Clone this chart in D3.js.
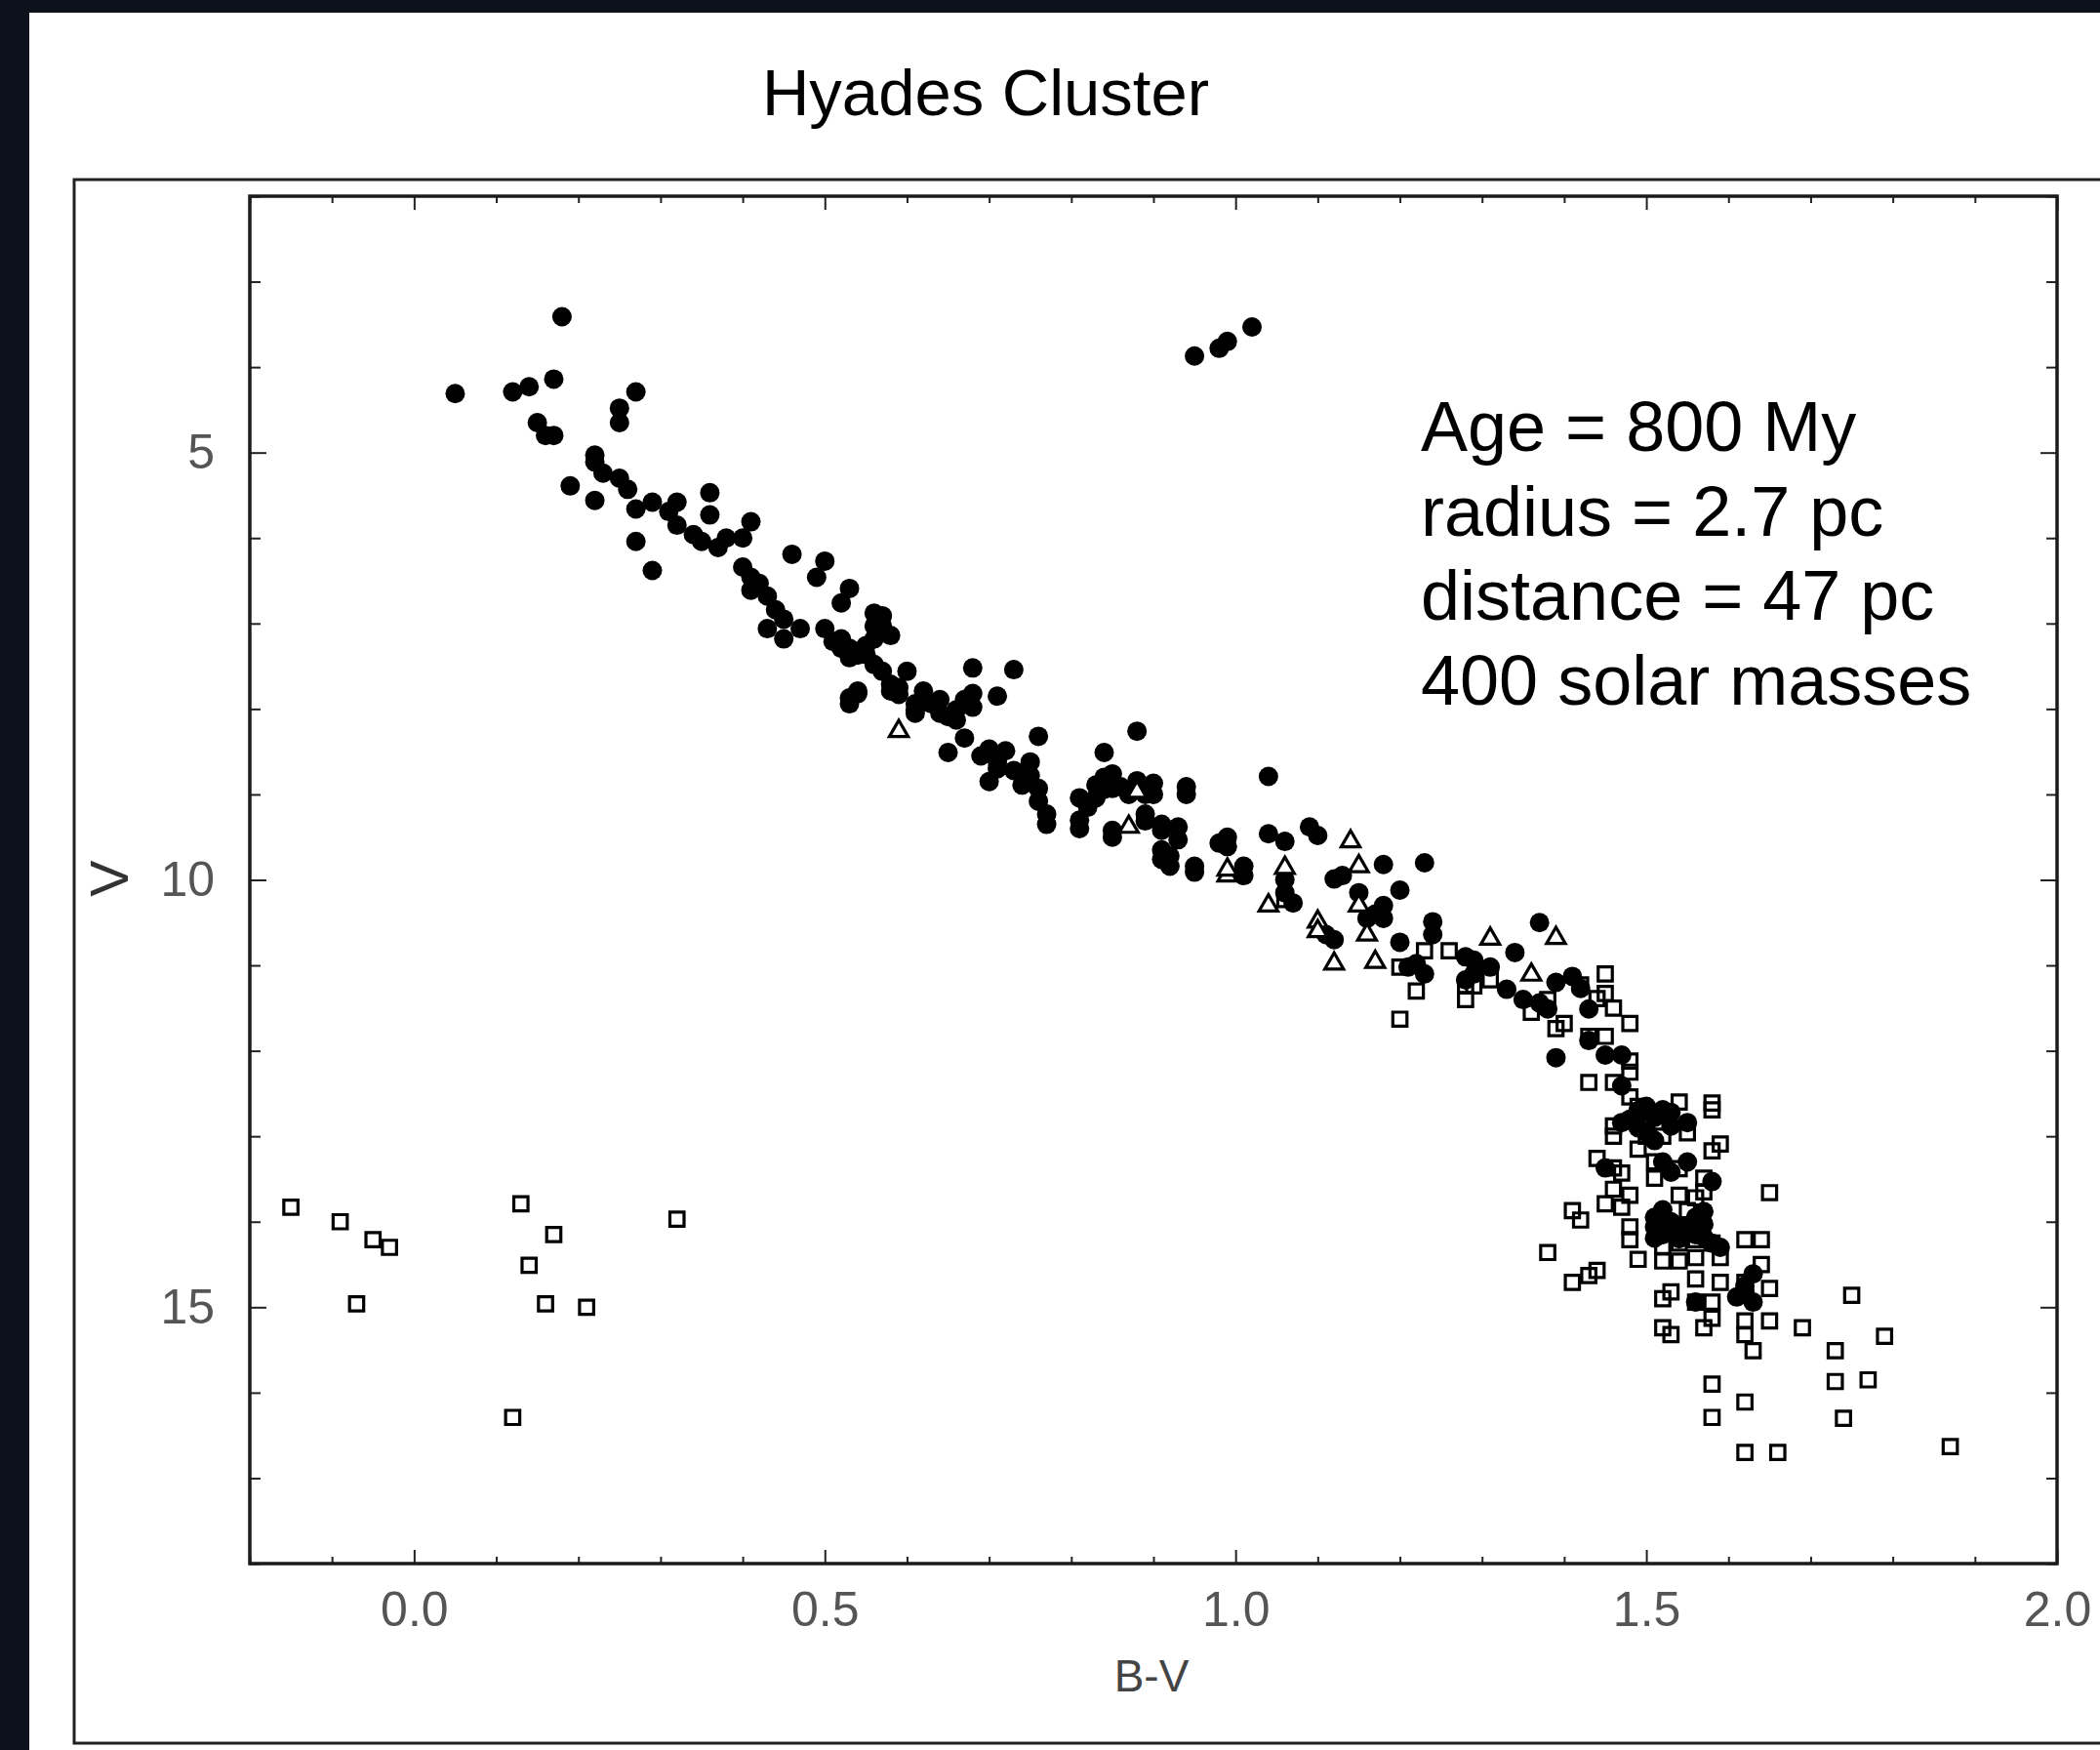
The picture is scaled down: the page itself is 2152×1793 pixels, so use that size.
<!DOCTYPE html>
<html><head><meta charset="utf-8">
<script src="https://cdn.jsdelivr.net/npm/d3@7"></script>
<style>html,body{margin:0;padding:0;background:#0d111b;overflow:hidden}</style>
</head><body>
<svg id="chart" width="2152" height="1793"></svg>
<script>
// ---------- data ----------
const title = "Hyades Cluster";
const xLabel = "B-V";
const yLabel = "V";
const xMajorTicks = [0.0, 0.5, 1.0, 1.5, 2.0];
const yMajorTicks = [5, 10, 15];
const annotation = ["Age = 800 My", "radius = 2.7 pc", "distance = 47 pc", "400 solar masses"];

// filled circles: [B-V, V]
const filledStars = [
  [0.95,3.87],[0.98,3.78],[0.99,3.70],[1.02,3.53],
  [0.18,3.41],[0.05,4.31],[0.12,4.29],[0.14,4.23],[0.17,4.14],[0.27,4.29],[0.25,4.48],[0.25,4.65],
  [0.15,4.65],[0.16,4.80],[0.17,4.80],[0.22,5.03],[0.22,5.11],[0.23,5.24],[0.25,5.30],[0.26,5.43],
  [0.19,5.39],[0.22,5.56],[0.27,5.66],[0.29,5.58],[0.27,6.04],[0.29,6.38],[0.31,5.69],[0.32,5.58],
  [0.32,5.85],[0.34,5.96],[0.35,6.04],[0.36,5.47],[0.36,5.73],[0.37,6.11],[0.38,6.00],[0.40,6.00],
  [0.41,5.81],[0.46,6.19],[0.40,6.34],[0.41,6.46],[0.41,6.61],[0.42,6.53],[0.43,6.68],[0.44,6.84],
  [0.45,6.95],[0.43,7.06],[0.45,7.18],[0.47,7.06],[0.50,6.27],[0.49,6.46],[0.53,6.59],[0.52,6.76],
  [0.57,6.91],[0.57,7.03],[0.50,7.06],[0.51,7.21],[0.52,7.29],[0.53,7.40],[0.55,7.36],[0.56,7.48],
  [0.54,7.82],[0.53,7.94],[0.58,7.71],[0.58,7.14],
  [0.60,7.56],[0.59,7.75],[0.62,7.79],[0.61,8.01],[0.64,7.89],[0.64,8.05],[0.66,8.01],[0.66,8.13],
  [0.68,7.52],[0.68,7.82],[0.68,7.98],[0.71,7.85],[0.73,7.54],[0.67,8.34],[0.65,8.51],[0.70,8.47],
  [0.72,8.49],[0.71,8.62],[0.70,8.85],[0.75,8.62],[0.74,8.89],[0.76,8.32],[0.75,8.78],[0.76,8.93],
  [0.76,9.08],[0.77,9.23],[0.77,9.35],[0.81,9.40],[0.82,9.15],[0.84,8.94],[0.85,8.93],[0.83,9.04],
  [0.84,8.51],[0.88,8.26],[0.87,9.00],[0.85,9.50],[0.89,9.00],[0.90,9.00],[0.89,9.31],[0.91,9.42],
  [0.93,9.38],[0.93,9.53],[0.94,9.00],[0.91,9.76],[0.92,9.84],[0.95,9.91],[0.98,9.57],[0.99,9.50],
  [0.99,9.61],[1.01,9.95],
  [0.52,7.18],[0.53,7.29],[0.54,7.37],[0.55,7.26],[0.56,6.88],[0.56,7.03],[0.56,7.18],[0.57,7.56],
  [0.58,7.79],[0.59,7.83],[0.61,7.94],[0.61,8.05],[0.63,7.94],[0.65,8.09],[0.67,7.89],[0.53,7.87],
  [0.54,7.79],[0.69,8.55],[0.71,8.70],[0.73,8.72],[0.74,8.76],
  [0.81,9.04],[0.83,8.89],[0.84,8.80],[0.85,8.76],[0.86,8.91],[0.88,8.84],[0.90,8.87],[0.94,8.91],
  [0.81,9.30],[0.85,9.42],[0.89,9.23],[0.91,9.35],[0.91,9.65],[0.92,9.72],[0.95,9.84],[1.01,9.84],
  [1.04,8.79],[1.04,9.46],[1.06,9.55],[1.09,9.38],[1.10,9.48],[1.18,9.82],[1.23,9.80],[1.20,10.12],
  [1.06,10.00],[1.06,10.15],[1.07,10.27],[1.12,9.99],[1.13,9.95],[1.15,10.15],[1.16,10.45],[1.18,10.30],
  [1.18,10.45],[1.17,10.40],[1.11,10.64],[1.12,10.70],[1.20,10.73],[1.24,10.49],[1.24,10.64],[1.21,11.02],
  [1.22,10.98],[1.23,11.10],[1.28,10.90],[1.29,10.94],[1.31,11.02],[1.29,11.10],[1.28,11.17],[1.34,10.85],
  [1.37,10.50],[1.33,11.28],[1.35,11.40],[1.37,11.44],[1.38,11.51],[1.39,11.20],[1.39,12.08],
  [1.41,11.13],[1.42,11.27],[1.43,11.51],[1.43,11.88],[1.45,12.05],[1.47,12.05],[1.47,12.41],
  [1.50,12.65],[1.52,12.69],[1.49,12.75],[1.47,12.84],[1.49,12.90],[1.55,12.84],[1.51,13.05],[1.52,13.30],
  [1.55,13.30],[1.53,13.42],[1.58,13.53],[1.45,13.37],[1.52,13.86],[1.52,13.95],[1.51,14.06],[1.56,13.95],
  [1.54,14.10],[1.51,14.19],[1.57,14.03],[1.56,14.15],[1.58,14.25],[1.59,14.30],[1.63,14.61],[1.62,14.75],
  [1.63,14.94],[1.56,14.94],[1.57,13.88],
  [1.49,12.70],[1.51,12.78],[1.53,12.72],[1.50,12.95],[1.48,12.80],[1.53,12.88],[1.51,13.95],[1.53,14.00],
  [1.55,14.05],[1.52,14.15],[1.54,14.20],[1.57,14.18],[1.61,14.88],[1.62,14.82]
];

// open triangles: [B-V, V]
const triangleStars = [
  [0.59,8.26],[0.87,9.38],[0.99,9.95],[0.99,9.88],[0.88,8.97],
  [1.14,9.55],[1.15,9.84],[1.06,9.86],[1.04,10.30],[1.15,10.30],[1.16,10.64],[1.10,10.49],
  [1.10,10.60],[1.12,10.98],[1.17,10.96],[1.31,10.69],[1.39,10.68],[1.36,11.11]
];

// open squares: [B-V, V]
const squareStars = [
  [-0.15,13.83],[-0.09,14.00],[-0.05,14.21],[-0.03,14.30],[-0.07,14.96],[0.13,13.79],[0.17,14.15],
  [0.14,14.51],[0.16,14.96],[0.21,15.00],[0.12,16.29],[0.32,13.97],
  [1.06,10.23],[1.23,10.83],[1.20,11.02],[1.22,11.30],[1.20,11.63],[1.26,10.83],[1.31,11.17],
  [1.28,11.24],[1.29,11.24],[1.28,11.40],[1.38,11.40],[1.36,11.55],[1.39,11.74],
  [1.42,11.23],[1.45,11.10],[1.44,11.39],[1.45,11.33],[1.46,11.50],[1.48,11.68],[1.40,11.68],[1.43,11.83],
  [1.45,11.83],[1.48,12.12],[1.43,12.37],[1.46,12.37],[1.48,12.25],[1.48,12.54],[1.49,12.65],[1.54,12.60],
  [1.58,12.69],[1.58,12.61],[1.46,12.88],[1.46,13.00],[1.50,13.00],[1.52,13.00],[1.55,12.96],[1.58,13.17],
  [1.59,13.09],[1.49,13.15],[1.44,13.26],[1.46,13.37],[1.47,13.43],[1.51,13.30],[1.51,13.49],[1.54,13.38],
  [1.57,13.49],[1.57,13.65],[1.46,13.62],[1.48,13.69],[1.45,13.79],[1.47,13.83],[1.54,13.69],[1.56,13.72],
  [1.65,13.66],[1.41,13.87],[1.42,13.98],[1.55,13.87],[1.48,14.06],[1.48,14.21],[1.52,14.29],[1.54,14.25],
  [1.56,14.21],[1.58,14.25],[1.38,14.36],[1.49,14.44],[1.54,14.46],[1.52,14.46],[1.56,14.42],[1.59,14.42],
  [1.62,14.21],[1.64,14.21],[1.64,14.50],[1.44,14.57],[1.43,14.63],[1.41,14.71],[1.56,14.67],[1.59,14.71],
  [1.62,14.71],[1.65,14.78],[1.52,14.90],[1.53,14.82],[1.56,14.94],[1.58,14.94],[1.58,15.13],[1.57,15.24],
  [1.52,15.24],[1.53,15.32],[1.62,15.16],[1.62,15.32],[1.63,15.51],[1.65,15.16],[1.69,15.24],[1.75,14.86],
  [1.79,15.34],[1.73,15.51],[1.73,15.87],[1.77,15.85],[1.74,16.30],[1.58,15.90],[1.62,16.11],[1.58,16.29],
  [1.62,16.70],[1.66,16.70],[1.87,16.63]
];

// ---------- drawing ----------
const W = 2152, H = 1793;
const svg = d3.select("#chart");
const FONT = "'Liberation Sans', Arial, Helvetica, sans-serif";

svg.append("rect").attr("width", W).attr("height", H).attr("fill", "#0d111b");
svg.append("rect").attr("x", 30).attr("y", 13).attr("width", W - 30).attr("height", H - 13).attr("fill", "#ffffff");
// outer frame
svg.append("rect").attr("x", 76).attr("y", 184).attr("width", W).attr("height", 1786 - 184)
  .attr("fill", "none").attr("stroke", "#222").attr("stroke-width", 3);

const plot = {left: 256, right: 2108, top: 201, bottom: 1602};
const x = d3.scaleLinear().domain([-0.2, 2.0]).range([plot.left, plot.right]);
const y = d3.scaleLinear().domain([2, 18]).range([plot.top, plot.bottom]);

const xMinor = d3.range(-2, 21).map(i => i / 10).filter(v => !xMajorTicks.some(m => Math.abs(m - v) < 1e-9));
const yMinor = d3.range(2, 19).filter(v => !yMajorTicks.includes(v));

function styleAxis(g) {
  g.select(".domain").remove();
  g.selectAll(".tick line").attr("stroke", "#222").attr("stroke-width", 2);
}
// bottom
svg.append("g").attr("transform", `translate(0,${plot.bottom})`)
  .call(d3.axisBottom(x).tickValues(xMinor).tickSize(-7).tickFormat(""))
  .call(styleAxis);
svg.append("g").attr("transform", `translate(0,${plot.bottom})`)
  .call(d3.axisBottom(x).tickValues(xMajorTicks).tickSize(-14).tickPadding(28).tickFormat(d3.format(".1f")))
  .call(styleAxis)
  .call(g => g.selectAll("text").attr("font-family", FONT).attr("font-size", 50).attr("fill", "#555"));
// top
svg.append("g").attr("transform", `translate(0,${plot.top})`)
  .call(d3.axisTop(x).tickValues(xMinor).tickSize(-7).tickFormat("")).call(styleAxis);
svg.append("g").attr("transform", `translate(0,${plot.top})`)
  .call(d3.axisTop(x).tickValues(xMajorTicks).tickSize(-14).tickFormat("")).call(styleAxis);
// left
svg.append("g").attr("transform", `translate(${plot.left},0)`)
  .call(d3.axisLeft(y).tickValues(yMinor).tickSize(-11).tickFormat("")).call(styleAxis);
svg.append("g").attr("transform", `translate(${plot.left},0)`)
  .call(d3.axisLeft(y).tickValues(yMajorTicks).tickSize(-17).tickPadding(36).tickFormat(d3.format("d")))
  .call(styleAxis)
  .call(g => g.selectAll("text").attr("font-family", FONT).attr("font-size", 50).attr("fill", "#555"));
// right
svg.append("g").attr("transform", `translate(${plot.right},0)`)
  .call(d3.axisRight(y).tickValues(yMinor).tickSize(-11).tickFormat("")).call(styleAxis);
svg.append("g").attr("transform", `translate(${plot.right},0)`)
  .call(d3.axisRight(y).tickValues(yMajorTicks).tickSize(-17).tickFormat("")).call(styleAxis);

// plot frame
svg.append("rect").attr("x", plot.left).attr("y", plot.top)
  .attr("width", plot.right - plot.left).attr("height", plot.bottom - plot.top)
  .attr("fill", "none").attr("stroke", "#1a1a1a").attr("stroke-width", 3.5);

// title and labels
svg.append("text").attr("x", 1010).attr("y", 118).attr("text-anchor", "middle")
  .attr("font-family", FONT).attr("font-size", 67).attr("fill", "#000").text(title);
svg.append("text").attr("x", 1180).attr("y", 1733).attr("text-anchor", "middle")
  .attr("font-family", FONT).attr("font-size", 46).attr("fill", "#444").text(xLabel);
svg.append("text").attr("transform", "translate(131,900) rotate(-90)").attr("text-anchor", "middle")
  .attr("font-family", FONT).attr("font-size", 56).attr("fill", "#333").text(yLabel);

// annotation
svg.append("g").selectAll("text").data(annotation).join("text")
  .attr("x", 1456).attr("y", (d, i) => 462 + i * 86.7)
  .attr("font-family", FONT).attr("font-size", 72).attr("fill", "#000").text(d => d);

// markers
const pts = svg.append("g");
pts.append("g").selectAll("circle").data(filledStars).join("circle")
  .attr("cx", d => x(d[0])).attr("cy", d => y(d[1])).attr("r", 10).attr("fill", "#000");
const sq = d3.symbol().type(d3.symbolSquare).size(210);
pts.append("g").selectAll("path").data(squareStars).join("path")
  .attr("d", sq).attr("transform", d => `translate(${x(d[0])},${y(d[1])})`)
  .attr("fill", "none").attr("stroke", "#000").attr("stroke-width", 3.2);
const tri = d3.symbol().type(d3.symbolTriangle).size(160);
pts.append("g").selectAll("path").data(triangleStars).join("path")
  .attr("d", tri).attr("transform", d => `translate(${x(d[0])},${y(d[1])})`)
  .attr("fill", "#fff").attr("stroke", "#000").attr("stroke-width", 3.2);
</script>
</body></html>
